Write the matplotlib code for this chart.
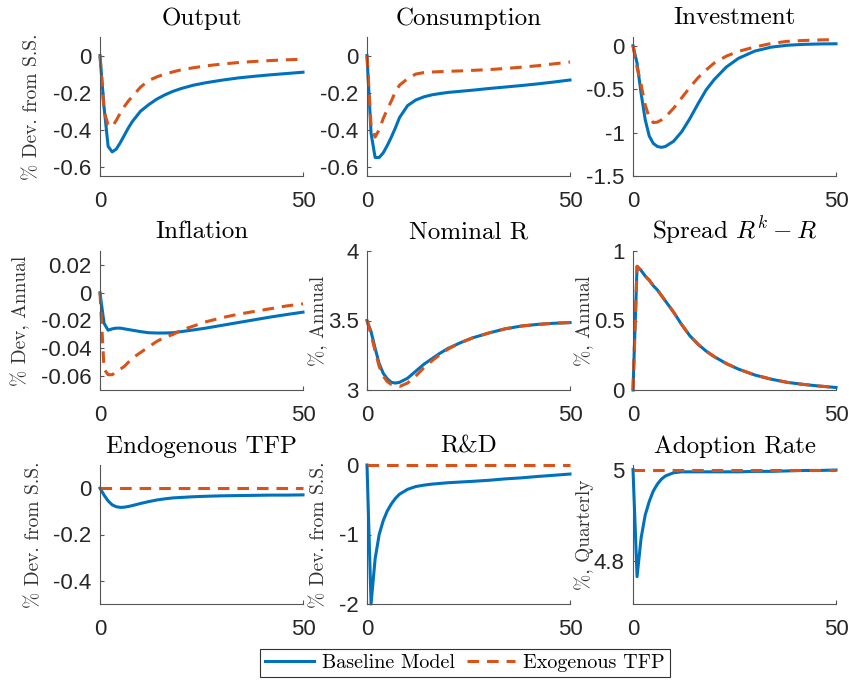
import matplotlib
matplotlib.use("Agg")
import matplotlib.pyplot as plt
from matplotlib.ticker import FuncFormatter

# ========== DATA ==========
quarters = [0, 1, 2, 3, 4, 5, 6, 7, 8, 10, 12, 14, 16, 18, 20, 23, 26, 30, 34, 38, 42, 46, 50]

output_base = [0, -0.28, -0.49, -0.52, -0.505, -0.47, -0.43, -0.39, -0.355, -0.3, -0.265, -0.235,
               -0.212, -0.193, -0.178, -0.16, -0.147, -0.133, -0.121, -0.112, -0.104, -0.097, -0.09]
output_exo = [0, -0.3, -0.375, -0.385, -0.35, -0.31, -0.275, -0.245, -0.22, -0.17, -0.135, -0.115,
              -0.1, -0.088, -0.077, -0.066, -0.056, -0.046, -0.038, -0.032, -0.027, -0.023, -0.02]

cons_base = [0, -0.42, -0.55, -0.55, -0.525, -0.485, -0.44, -0.39, -0.335, -0.27, -0.24, -0.223,
             -0.212, -0.205, -0.199, -0.193, -0.187, -0.178, -0.17, -0.162, -0.153, -0.143, -0.132]
cons_exo = [0, -0.38, -0.44, -0.4, -0.34, -0.29, -0.245, -0.195, -0.16, -0.125, -0.1, -0.092,
            -0.089, -0.087, -0.085, -0.083, -0.08, -0.076, -0.07, -0.063, -0.055, -0.045, -0.035]

inv_base = [0, -0.2, -0.55, -0.85, -1.04, -1.125, -1.16, -1.17, -1.16, -1.1, -0.99, -0.84,
            -0.67, -0.51, -0.39, -0.245, -0.145, -0.062, -0.017, 0.005, 0.015, 0.02, 0.022]
inv_exo = [0, -0.25, -0.45, -0.68, -0.83, -0.885, -0.88, -0.855, -0.82, -0.72, -0.6, -0.48,
           -0.37, -0.28, -0.2, -0.12, -0.065, -0.015, 0.025, 0.05, 0.06, 0.066, 0.07]

infl_base = [0, -0.022, -0.027, -0.026, -0.0255, -0.0255, -0.026, -0.0265, -0.027, -0.028, -0.0288,
             -0.029, -0.029, -0.0288, -0.028, -0.0268, -0.0255, -0.0235, -0.0215, -0.0195, -0.0175,
             -0.0157, -0.014]
infl_exo = [0, -0.055, -0.059, -0.059, -0.057, -0.055, -0.053, -0.05, -0.047, -0.043, -0.039, -0.035,
            -0.032, -0.03, -0.027, -0.024, -0.021, -0.018, -0.0155, -0.0135, -0.0115, -0.0095, -0.008]

nomr_base = [3.5, 3.42, 3.3, 3.19, 3.12, 3.08, 3.055, 3.05, 3.055, 3.085, 3.135, 3.185,
             3.225, 3.265, 3.3, 3.34, 3.375, 3.41, 3.44, 3.46, 3.472, 3.48, 3.485]
nomr_exo = [3.5, 3.4, 3.28, 3.17, 3.1, 3.06, 3.04, 3.03, 3.025, 3.05, 3.1, 3.16,
            3.21, 3.255, 3.295, 3.34, 3.375, 3.41, 3.44, 3.46, 3.472, 3.48, 3.485]

spread_base = [0, 0.89, 0.86, 0.82, 0.79, 0.75, 0.72, 0.68, 0.64, 0.56, 0.47, 0.39,
               0.33, 0.28, 0.24, 0.19, 0.15, 0.108, 0.078, 0.055, 0.04, 0.028, 0.018]
spread_exo = [0, 0.89, 0.86, 0.82, 0.79, 0.75, 0.72, 0.68, 0.64, 0.56, 0.47, 0.39,
              0.33, 0.28, 0.24, 0.19, 0.15, 0.108, 0.078, 0.055, 0.04, 0.028, 0.018]

tfp_base = [0, -0.03, -0.055, -0.072, -0.08, -0.083, -0.082, -0.079, -0.075, -0.066, -0.058, -0.051,
            -0.046, -0.042, -0.04, -0.037, -0.035, -0.033, -0.032, -0.031, -0.03, -0.03, -0.029]
tfp_exo = [0] * 23

rd_base = [0, -2.0, -1.35, -1.0, -0.8, -0.66, -0.56, -0.48, -0.42, -0.35, -0.31, -0.29,
           -0.275, -0.265, -0.255, -0.245, -0.235, -0.22, -0.2, -0.185, -0.165, -0.148, -0.13]
rd_exo = [0] * 23

adopt_base = [5.0, 4.765, 4.85, 4.9, 4.93, 4.953, 4.968, 4.979, 4.986, 4.993, 4.995, 4.995,
              4.995, 4.995, 4.995, 4.995, 4.995, 4.996, 4.996, 4.997, 4.998, 4.998, 4.999]
adopt_exo = [5.0] * 23

titles = ["Output", "Consumption", "Investment",
          "Inflation", "Nominal R", r"Spread $R^k - R$",
          "Endogenous TFP", "R&D", "Adoption Rate"]
ylabels = ["% Dev. from S.S.", "", "",
           "% Dev, Annual", "%, Annual", "%, Annual",
           "% Dev. from S.S.", "% Dev. from S.S.", "%, Quarterly"]
series = [(output_base, output_exo), (cons_base, cons_exo), (inv_base, inv_exo),
          (infl_base, infl_exo), (nomr_base, nomr_exo), (spread_base, spread_exo),
          (tfp_base, tfp_exo), (rd_base, rd_exo), (adopt_base, adopt_exo)]
ylims = [(-0.65, 0.1), (-0.65, 0.1), (-1.5, 0.1),
         (-0.07, 0.03), (3, 4), (0, 1),
         (-0.5, 0.1), (-2, 0), (4.705, 5.01)]
yticks = [[-0.6, -0.4, -0.2, 0], [-0.6, -0.4, -0.2, 0], [-1.5, -1, -0.5, 0],
          [-0.06, -0.04, -0.02, 0, 0.02], [3, 3.5, 4], [0, 0.5, 1],
          [-0.4, -0.2, 0], [-2, -1, 0], [4.8, 5]]
xticks = [0, 50]

# ========== STYLE ==========
BLUE = "#0072BD"
ORANGE = "#D95319"
SERIF = "cmr10"
SANS = "Liberation Sans"

plt.rcParams["mathtext.fontset"] = "cm"
plt.rcParams["axes.unicode_minus"] = False
plt.rcParams["font.family"] = SANS

fig = plt.figure(figsize=(8.49, 6.82), dpi=100)
W, H = 849.0, 682.0
col_left = [100, 367, 633]
row_top = [37, 251, 465]
ax_w, ax_h = 203, 139
# ylabel offsets (axes fraction) per panel
ylab_x = [-0.29, 0, 0, -0.345, -0.19, -0.19, -0.28, -0.19, -0.19]

lines = None
for i in range(9):
    r, c = divmod(i, 3)
    ax = fig.add_axes([col_left[c] / W, 1 - (row_top[r] + ax_h) / H, ax_w / W, ax_h / H])
    base, exo = series[i]
    # no clipping, so lines sitting on an axis limit stay fully visible (as in MATLAB)
    l1, = ax.plot(quarters, base, color=BLUE, lw=2.2, solid_joinstyle="round", clip_on=False)
    l2, = ax.plot(quarters, exo, color=ORANGE, lw=2.2, linestyle=(0, (3.8, 2.6)), clip_on=False)
    if lines is None:
        lines = [l1, l2]
    ax.set_xlim(0, 50)
    ax.set_ylim(*ylims[i])
    ax.set_xticks(xticks)
    ax.set_yticks(yticks[i])
    ax.yaxis.set_major_formatter(FuncFormatter(lambda v, p: f"{v:g}"))
    ax.xaxis.set_major_formatter(FuncFormatter(lambda v, p: f"{v:g}"))
    for s in ["top", "right"]:
        ax.spines[s].set_visible(False)
    for s in ["left", "bottom"]:
        ax.spines[s].set_color("#555555")
        ax.spines[s].set_linewidth(0.8)
    ax.tick_params(direction="in", length=3, width=0.8, color="#555555",
                   labelsize=16, labelcolor="#262626")
    ax.tick_params(axis="x", pad=11)
    ax.tick_params(axis="y", pad=6)
    ax.set_title(titles[i], fontfamily=SERIF, fontsize=18, pad=9)
    if ylabels[i]:
        ax.set_ylabel(ylabels[i], fontfamily=SERIF, fontsize=14, color="#333333")
        ax.yaxis.set_label_coords(ylab_x[i], 0.5)

leg = fig.legend(lines, ["Baseline Model", "Exogenous TFP"], loc="center",
                 bbox_to_anchor=(465 / W, 1 - 663 / H), ncol=2, fancybox=False,
                 edgecolor="#333333", framealpha=1, prop={"family": SERIF, "size": 14.5},
                 handlelength=2.4, handletextpad=0.4, columnspacing=0.6, borderpad=0.25)
leg.get_frame().set_linewidth(0.8)

fig.savefig("out.png", dpi=100)
